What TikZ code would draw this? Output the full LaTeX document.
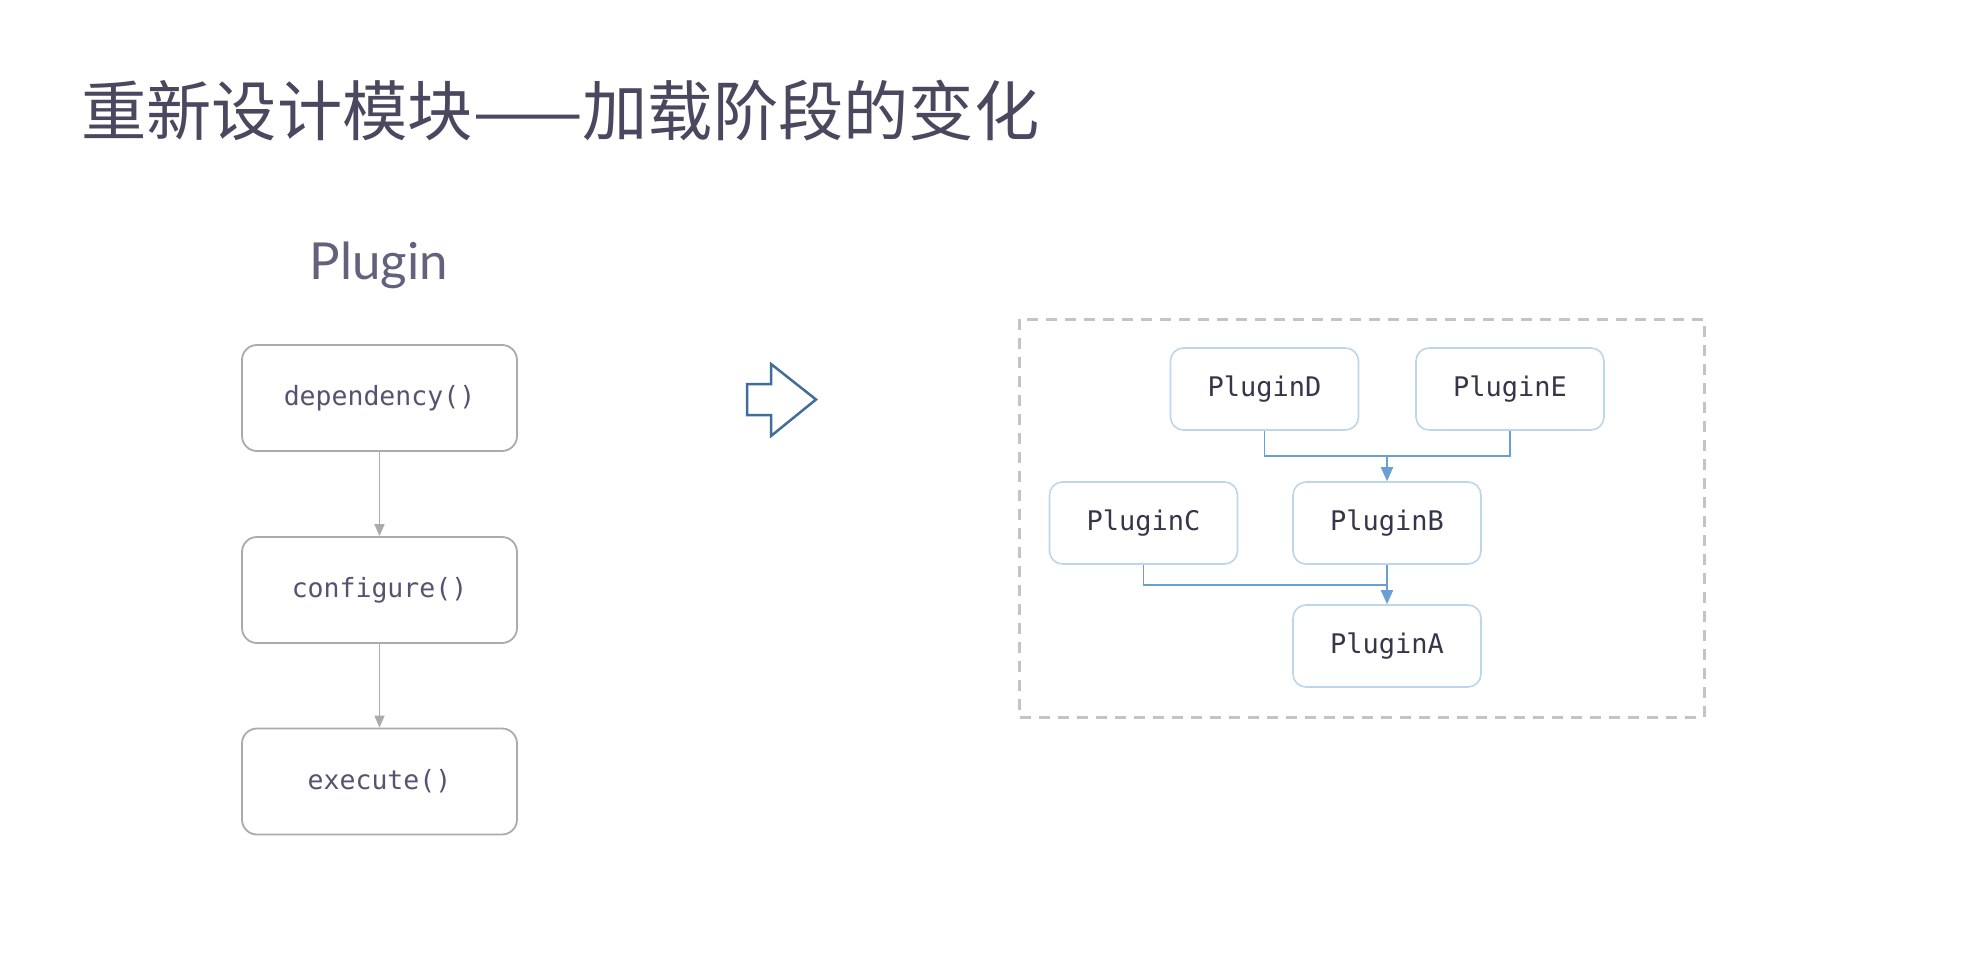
\documentclass[tikz,border=0pt]{standalone}
\usepackage{fontspec}
\setmainfont{Lato}
\setmonofont{DejaVu Sans Mono}
\newfontfamily\cjk{Noto Sans CJK SC}
\usetikzlibrary{arrows.meta}
\definecolor{titlecol}{HTML}{4A485F}
\definecolor{labelcol}{HTML}{62627D}
\definecolor{fncol}{HTML}{545470}
\definecolor{pluginfg}{HTML}{36364A}
\definecolor{graybox}{HTML}{ABABAB}
\definecolor{bluebox}{HTML}{BCD6EC}
\definecolor{blueline}{HTML}{6A9FD3}
\definecolor{bigarrow}{HTML}{3F6E9C}
\definecolor{dashcol}{HTML}{C4C4C4}
\tikzset{
  fnbox/.style={draw=graybox, line width=1.8pt, rounded corners=15pt,
    minimum width=275pt, minimum height=106pt, inner sep=0pt,
    text=fncol, font=\ttfamily\fontsize{26.5}{30}\selectfont},
  plbox/.style={draw=bluebox, line width=1.6pt, rounded corners=13pt,
    minimum width=188pt, minimum height=82pt, inner sep=0pt,
    text=pluginfg, font=\ttfamily\fontsize{27}{30}\selectfont},
  grayconn/.style={draw=graybox, line width=1.6pt, -{Triangle[length=12pt,width=10pt]}},
  blueconn/.style={draw=blueline, line width=1.8pt, -{Triangle[length=14pt,width=12pt]}},
  blueplain/.style={draw=blueline, line width=1.8pt},
}
\begin{document}
\begin{tikzpicture}[x=1pt,y=-1pt]
\useasboundingbox[fill=white] (0,0) rectangle (1968,974);

% title
\node[anchor=west, inner sep=0pt, text=titlecol, font=\cjk\fontsize{65.3}{70}\selectfont]
  (title) at (81,111) {重新设计模块——加载阶段的变化};

% left column
\node[anchor=base, inner sep=0pt, text=labelcol, font=\fontsize{51}{56}\selectfont]
  (plabel) at (379,279) {Plugin};
\node[fnbox] (dep) at (379.5,398) {dependency()};
\node[fnbox] (conf) at (379.5,590) {configure()};
\node[fnbox] (exec) at (379.5,781.5) {execute()};
\draw[grayconn] (dep.south) -- (conf.north);
\draw[grayconn] (conf.south) -- (exec.north);

% hollow arrow
\draw[bigarrow, line width=2.5pt, line join=miter]
  (747,384) -- (771,384) -- (771,364) -- (816,399.5) -- (771,436) -- (771,415) -- (747,415) -- cycle;

% dashed frame
\draw[dashcol, line width=3pt, dash pattern=on 11pt off 8pt] (1019,319) rectangle (1704,717);

% plugin graph
\node[plbox] (D) at (1264.5,389) {PluginD};
\node[plbox] (E) at (1510,389) {PluginE};
\node[plbox] (C) at (1143.5,523) {PluginC};
\node[plbox] (B) at (1387,523) {PluginB};
\node[plbox] (A) at (1387,646) {PluginA};

\coordinate (mDE) at (1387,456);
\coordinate (mCB) at (1387,585);
\draw[blueplain] (D.south) |- (mDE) -| (E.south);
\draw[blueconn] (mDE) -- (B.north);
\draw[blueplain] (C.south) |- (mCB);
\draw[blueconn] (B.south) -- (A.north);
\end{tikzpicture}
\end{document}
